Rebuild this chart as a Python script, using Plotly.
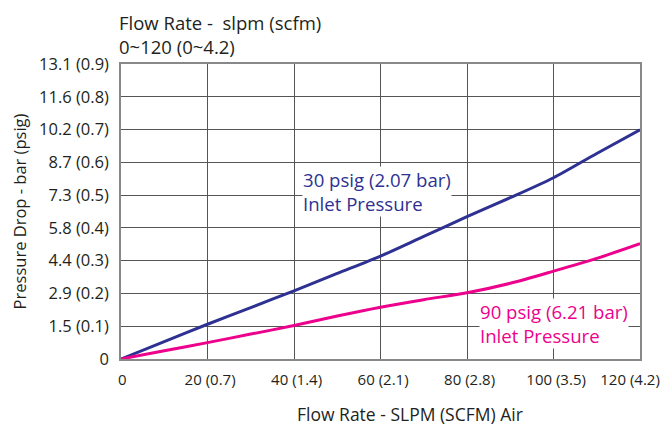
import plotly.graph_objects as go

flow = [0, 10, 20, 30, 40, 50, 60, 70, 80, 90, 100, 110, 120]
drop_30psig = [0, 0.053, 0.106, 0.157, 0.208, 0.261, 0.314, 0.374, 0.434, 0.492, 0.553, 0.627, 0.699]
drop_90psig = [0, 0.025, 0.050, 0.076, 0.102, 0.131, 0.158, 0.181, 0.202, 0.231, 0.268, 0.307, 0.352]

x_gridvals = [0, 20, 40, 60, 80, 100, 120]
x_labelvals = [0.3, 20.6, 40.6, 60.6, 80.6, 100.6, 117.7]
x_ticktext = ["0", "20 (0.7)", "40 (1.4)", "60 (2.1)", "80 (2.8)", "100 (3.5)", "120 (4.2)"]
y_tickvals = [0, 0.1, 0.2, 0.3, 0.4, 0.5, 0.6, 0.7, 0.8, 0.9]
y_ticktext = ["0", "1.5 (0.1)", "2.9 (0.2)", "4.4 (0.3)", "5.8 (0.4)", "7.3 (0.5)",
              "8.7 (0.6)", "10.2 (0.7)", "11.6 (0.8)", "13.1 (0.9)"]

BLUE = "#2E3192"
PINK = "#EC008C"
TXT = "#231F20"
FONT = "Open Sans"

fig = go.Figure()
fig.add_trace(go.Scatter(x=flow, y=drop_30psig, mode="lines",
                         line=dict(color=BLUE, width=3, shape="spline", smoothing=0.8),
                         showlegend=False))
fig.add_trace(go.Scatter(x=flow, y=drop_90psig, mode="lines",
                         line=dict(color=PINK, width=3, shape="spline", smoothing=0.8),
                         showlegend=False))
fig.add_trace(go.Scatter(x=[0], y=[0], xaxis="x2", mode="markers", marker=dict(opacity=0),
                         showlegend=False, hoverinfo="skip"))

fig.add_annotation(x=41.85, y=0.589, xref="x", yref="y", xanchor="left", yanchor="top",
                   text="30 psig (2.07 bar)<br>Inlet Pressure", align="left", showarrow=False,
                   font=dict(family=FONT, size=18.6, color=BLUE), bgcolor="white", borderpad=0)
fig.add_annotation(x=82.8, y=0.186, xref="x", yref="y", xanchor="left", yanchor="top",
                   text="90 psig (6.21 bar)<br>Inlet Pressure", align="left", showarrow=False,
                   font=dict(family=FONT, size=18.6, color=PINK), bgcolor="white", borderpad=0)

fig.add_annotation(xref="paper", yref="paper", x=-0.008, y=1.19, xanchor="left", yanchor="top",
                   text="Flow Rate -  slpm (scfm)<br>0~120 (0~4.2)", align="left", showarrow=False,
                   font=dict(family=FONT, size=18.5, color=TXT))

fig.add_annotation(xref="paper", yref="paper", x=0.557, y=-0.185, xanchor="center",
                   yanchor="middle", text="Flow Rate - SLPM (SCFM) Air", showarrow=False,
                   font=dict(family=FONT, size=17.5, color=TXT))

fig.update_layout(
    width=662, height=419,
    margin=dict(l=113, r=30, t=56, b=68),
    paper_bgcolor="white", plot_bgcolor="white",
    font=dict(family=FONT, size=14, color=TXT),
    xaxis=dict(range=[0, 120], tickvals=x_gridvals, showticklabels=False,
               showgrid=True, gridcolor="#555", gridwidth=1.3,
               showline=True, linecolor="#888", linewidth=1.5, mirror=True,
               zeroline=False, ticks="", automargin=False),
    xaxis2=dict(range=[0, 120], overlaying="x", side="bottom", tickvals=x_labelvals,
                ticktext=x_ticktext, showgrid=False, showline=False, zeroline=False,
                ticks="", ticklabelstandoff=10, automargin=False, tickangle=0,
                tickfont=dict(family=FONT, size=15, color=TXT)),
    yaxis=dict(range=[0, 0.9], tickvals=y_tickvals, ticktext=y_ticktext,
               showgrid=True, gridcolor="#555", gridwidth=1.3,
               showline=True, linecolor="#888", linewidth=1.5, mirror=True,
               zeroline=False, ticks="", ticklabelstandoff=7, automargin=False,
               tickfont=dict(family=FONT, size=16.5, color=TXT),
               title=dict(text="Pressure Drop - bar (psig)", font=dict(size=16.5), standoff=17)),
)

fig.write_html("out.html")
